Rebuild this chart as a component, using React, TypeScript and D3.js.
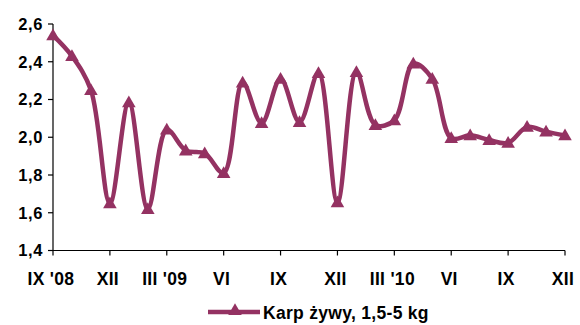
import React from "react";
import * as d3 from "d3";

const months = d3.range(28);
const values = [2.54, 2.43, 2.25, 1.65, 2.185, 1.62, 2.04, 1.93, 1.915, 1.81, 2.29, 2.075, 2.31, 2.08, 2.34, 1.655, 2.345, 2.065, 2.09, 2.39, 2.31, 1.995, 2.01, 1.985, 1.97, 2.055, 2.03, 2.01];
const xTickLabels = ["IX '08", "XII", "III '09", "VI", "IX", "XII", "III '10", "VI", "IX", "XII"];
const yTicks = [1.4, 1.6, 1.8, 2.0, 2.2, 2.4, 2.6];
const seriesName = "Karp żywy, 1,5-5 kg";

const COLOR = "#943262";
const FONT = "Arial, 'Liberation Sans', sans-serif";

export default function App() {
  const W = 580, H = 325;
  const x = d3.scaleLinear().domain([0, 27]).range([53, 565]);
  const y = d3.scaleLinear().domain([1.4, 2.6]).range([250.5, 24]);
  const line = d3.line<number>().x((_, i) => x(i)).y((d) => y(d)).curve(d3.curveCatmullRom.alpha(0.5));
  const tri = d3.symbol().type(d3.symbolTriangle).size(80)();
  const fmt = (v: number) => v.toFixed(1).replace(".", ",");
  return (
    <svg width={W} height={H} style={{ position: "absolute", left: 0, top: 0 }}>
      <rect width={W} height={H} fill="#fff" />
      {/* y axis */}
      <line x1={53} x2={53} y1={24} y2={250.5} stroke="#000" strokeWidth={1.2} />
      {yTicks.map((t) => (
        <g key={t}>
          <line x1={48} x2={53} y1={y(t)} y2={y(t)} stroke="#000" strokeWidth={1.2} />
          <text x={43} y={y(t)} dy="0.35em" textAnchor="end" fontFamily={FONT} fontWeight="bold" fontSize={16.5} letterSpacing={0.6} fill="#000">{fmt(t)}</text>
        </g>
      ))}
      {/* x axis */}
      <line x1={53} x2={565} y1={250.5} y2={250.5} stroke="#000" strokeWidth={1.2} />
      {xTickLabels.map((lab, i) => (
        <g key={i}>
          <line x1={x(i * 3)} x2={x(i * 3)} y1={250.5} y2={255.5} stroke="#000" strokeWidth={1.2} />
          <text x={x(i * 3) - 2} y={285} textAnchor="middle" fontFamily={FONT} fontWeight="bold" fontSize={17.5} letterSpacing={0.3} fill="#000">{lab}</text>
        </g>
      ))}
      <path d={line(values) || ""} fill="none" stroke={COLOR} strokeWidth={4.5} strokeLinejoin="round" />
      {months.map((m) => (
        <path key={m} d={tri || ""} transform={`translate(${x(m)},${y(values[m]) + 1})`} fill={COLOR} />
      ))}
      {/* legend */}
      <line x1={208} x2={260} y1={312} y2={312} stroke={COLOR} strokeWidth={4.5} />
      <path d={tri || ""} transform="translate(235,311)" fill={COLOR} />
      <text x={263} y={319} fontFamily={FONT} fontWeight="bold" fontSize={17.5} letterSpacing={0.3} fill="#000">{seriesName}</text>
    </svg>
  );
}
